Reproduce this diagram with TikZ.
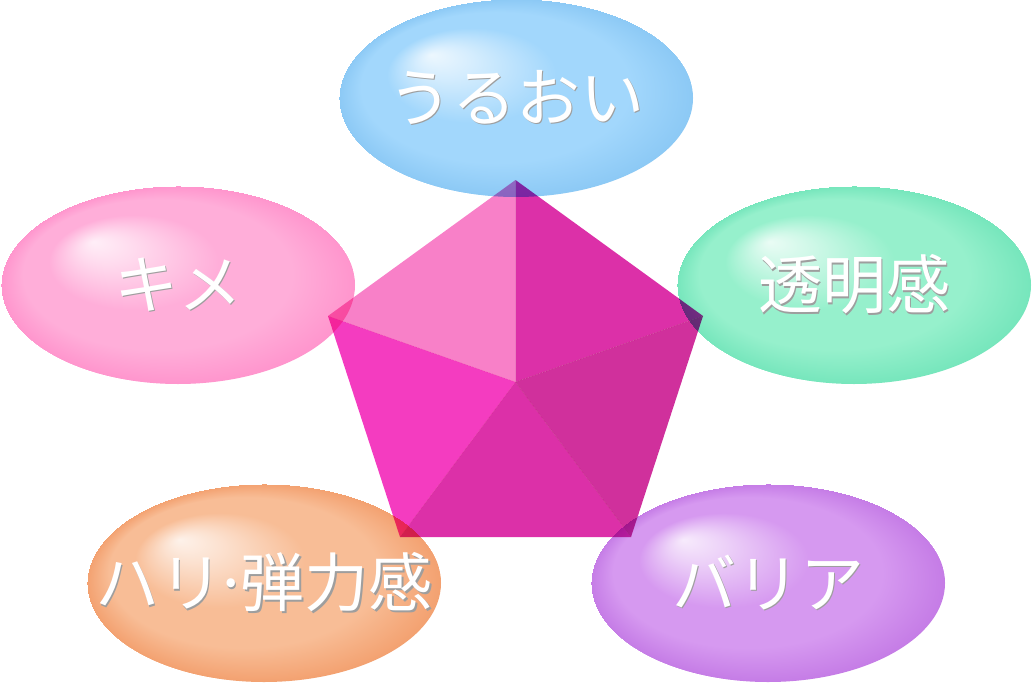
\documentclass[tikz,border=0pt]{standalone}
\usepackage{fontspec}
\usepackage{xcolor}
\usepackage{tikz}
\usetikzlibrary{shapes.geometric}
\newfontfamily\jpfont{Noto Sans CJK JP}

\definecolor{blueEdge}{HTML}{8CC9F5}
\definecolor{blueMid}{HTML}{A2D7FC}
\definecolor{pinkEdge}{HTML}{FF95CD}
\definecolor{pinkMid}{HTML}{FFAED9}
\definecolor{greenEdge}{HTML}{76E6BC}
\definecolor{greenMid}{HTML}{96F0CC}
\definecolor{orangeEdge}{HTML}{F3A170}
\definecolor{orangeMid}{HTML}{F8BD96}
\definecolor{purpleEdge}{HTML}{C57CE6}
\definecolor{purpleMid}{HTML}{D699F0}
\definecolor{faceA}{HTML}{F880C8}
\definecolor{faceB}{HTML}{DC30A8}
\definecolor{faceC}{HTML}{D0309C}
\definecolor{faceD}{HTML}{F43CC0}

\newcommand\blobshading[3]{%
  \pgfdeclareradialshading{#1}{\pgfpoint{-12bp}{11bp}}{%
    color(0bp)=(white!80!#2); color(4bp)=(white!55!#2); color(12bp)=(#2);
    color(19bp)=(#2); color(25bp)=(#3)}}
\blobshading{blobblue}{blueMid}{blueEdge}
\blobshading{blobpink}{pinkMid}{pinkEdge}
\blobshading{blobgreen}{greenMid}{greenEdge}
\blobshading{oborange}{orangeMid}{orangeEdge}
\blobshading{blobpurple}{purpleMid}{purpleEdge}

\newcommand\embossed[1]{\makebox[0pt]{\makebox[0pt][l]{\hspace{1.6pt}\raisebox{-1.6pt}{\color{black!38}#1}}#1}}

\begin{document}
\begin{tikzpicture}[x=1pt, y=-1pt,
    blob/.style={ellipse, inner sep=0pt, minimum width=354pt, minimum height=198pt,
      text=white, font=\jpfont\fontsize{64}{64}\selectfont}]

  \fill[white] (0,0) rectangle (1032,682);
  \useasboundingbox (0,0) rectangle (1032,682);

  % Bubbles
  \node[blob, shading=blobblue]   (uruoi)  at (516,98)  {\embossed{うるおい}};
  \node[blob, shading=blobpink]   (kime)   at (178,285) {\embossed{キメ}};
  \node[blob, shading=blobgreen]  (toumei) at (854,285) {\embossed{透明感}};
  \node[blob, shading=oborange]   (hari)   at (264,583) {\embossed{ハリ\kern-10pt·\kern-8pt弾力感}};
  \node[blob, shading=blobpurple] (barrier) at (768,583) {\embossed{バリア}};

  % Pentagon
  \coordinate (top) at (515.5,180);
  \coordinate (left) at (328,316);
  \coordinate (right) at (703,316);
  \coordinate (bl) at (400,537);
  \coordinate (br) at (631,537);
  \coordinate (mid) at (515.5,382);

  \begin{scope}[blend mode=multiply]
    \fill[faceA] (top) -- (mid) -- (left) -- cycle;
    \fill[faceB] (top) -- (right) -- (mid) -- cycle;
    \fill[faceC] (right) -- (br) -- (mid) -- cycle;
    \fill[faceB] (br) -- (bl) -- (mid) -- cycle;
    \fill[faceD] (bl) -- (left) -- (mid) -- cycle;
  \end{scope}

\end{tikzpicture}
\end{document}
